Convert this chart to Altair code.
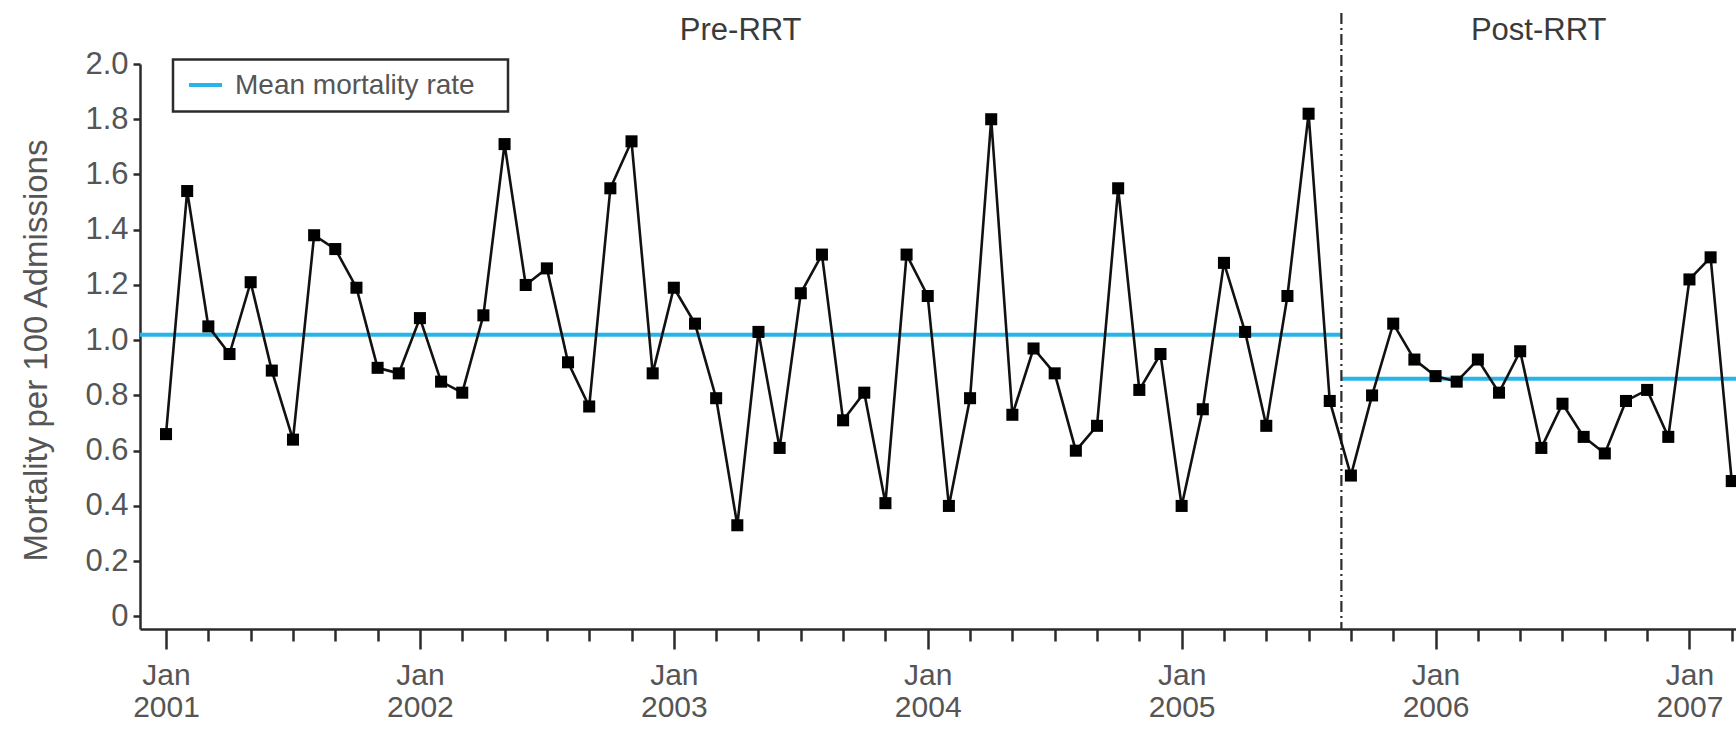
import json
import altair as alt
import pandas as pd

# ---- data ----
month_labels = [f"{y}-{m:02d}" for y in range(2001, 2008) for m in range(1, 13)][:75]
mortality = [
    0.66, 1.54, 1.05, 0.95, 1.21, 0.89, 0.64, 1.38, 1.33, 1.19, 0.90, 0.88,   # 2001
    1.08, 0.85, 0.81, 1.09, 1.71, 1.20, 1.26, 0.92, 0.76, 1.55, 1.72, 0.88,   # 2002
    1.19, 1.06, 0.79, 0.33, 1.03, 0.61, 1.17, 1.31, 0.71, 0.81, 0.41, 1.31,   # 2003
    1.16, 0.40, 0.79, 1.80, 0.73, 0.97, 0.88, 0.60, 0.69, 1.55, 0.82, 0.95,   # 2004
    0.40, 0.75, 1.28, 1.03, 0.69, 1.16, 1.82, 0.78, 0.51, 0.80, 1.06, 0.93,   # 2005
    0.87, 0.85, 0.93, 0.81, 0.96, 0.61, 0.77, 0.65, 0.59, 0.78, 0.82, 0.65,   # 2006
    1.22, 1.30, 0.49,                                                         # 2007
]
period_names = ["Pre-RRT", "Post-RRT"]
period_means = [1.02, 0.86]
year_labels = ["2001", "2002", "2003", "2004", "2005", "2006", "2007"]
y_tick_values = [0, 0.2, 0.4, 0.6, 0.8, 1.0, 1.2, 1.4, 1.6, 1.8, 2.0]
legend_label = "Mean mortality rate"

# month index axis (0 = Jan 2001)
X_MIN, X_MAX = -1.23, 74.2
BOUNDARY = 55.55  # between Aug and Sep 2005
Y_MIN, Y_MAX = -0.0456, 2.0

W, H = 1596, 565
TEXT = "#555555"
DARK = "#2b2b2b"
CYAN = "#27b4e8"
FONT = "Liberation Sans"

df = pd.DataFrame({"idx": list(range(len(mortality))), "month": month_labels, "rate": mortality})

periods = pd.DataFrame({
    "name": period_names,
    "start": [X_MIN, BOUNDARY],
    "end": [BOUNDARY, X_MAX],
    "mean": period_means,
})
periods["mid"] = (periods["start"] + periods["end"]) / 2

xscale = alt.Scale(domain=[X_MIN, X_MAX], nice=False, zero=False)
yscale = alt.Scale(domain=[Y_MIN, Y_MAX], nice=False, zero=False)

x_axis = alt.Axis(
    values=list(range(len(mortality))),
    labelExpr="datum.value % 12 === 0 ? ['Jan', " + json.dumps(year_labels) + "[datum.value / 12]] : ''",
    tickSize={"condition": {"test": "datum.value % 12 === 0", "value": 20}, "value": 12},
    tickWidth=2.5, tickColor=DARK,
    domainColor=DARK, domainWidth=2.5,
    labelFontSize=30, labelColor=TEXT, labelFont=FONT,
    labelLineHeight=32, labelPadding=11,
    labelOverlap=False, labelFlush=False, grid=False, title=None,
)
y_axis = alt.Axis(
    values=y_tick_values,
    labelExpr="datum.value === 0 ? '0' : format(datum.value, '.1f')",
    tickSize=7, tickWidth=2.5, tickColor=DARK,
    domainColor=DARK, domainWidth=2.5,
    labelFontSize=31, labelColor=TEXT, labelFont=FONT, labelPadding=5,
    labelOverlap=False, labelFlush=False, grid=False,
    title="Mortality per 100 Admissions",
    titleFontSize=33, titleFontWeight="normal", titleColor=TEXT, titleFont=FONT,
    titleAngle=270, titleAlign="center", titleBaseline="middle",
    titleX=-104, titleY=286,
)

mean_lines = alt.Chart(periods).mark_rule(color=CYAN, strokeWidth=4).encode(
    x=alt.X("start:Q", scale=xscale, axis=x_axis),
    x2="end:Q",
    y=alt.Y("mean:Q", scale=yscale, axis=y_axis),
)

boundary = alt.Chart(periods.iloc[[1]]).mark_rule(
    color=DARK, strokeWidth=2.2, strokeDash=[11, 4, 2, 4]
).encode(
    x=alt.X("start:Q", scale=xscale),
    y=alt.value(-51), y2=alt.value(H),
)

period_text = alt.Chart(periods).mark_text(
    fontSize=31, font=FONT, color="#3a3a3a", baseline="alphabetic", align="center"
).encode(
    x=alt.X("mid:Q", scale=xscale),
    y=alt.value(-24),
    text="name:N",
)

line = alt.Chart(df).mark_line(color="#111111", strokeWidth=2.6).encode(
    x=alt.X("idx:Q", scale=xscale),
    y=alt.Y("rate:Q", scale=yscale),
)
points = alt.Chart(df).mark_square(color="#000000", size=145, opacity=1).encode(
    x=alt.X("idx:Q", scale=xscale),
    y=alt.Y("rate:Q", scale=yscale),
)

legend_df = pd.DataFrame({"label": [legend_label]})
legend_box = alt.Chart(legend_df).mark_rect(
    fill="white", stroke=DARK, strokeWidth=2.5
).encode(x=alt.value(33), x2=alt.value(368), y=alt.value(-4.5), y2=alt.value(47.5))
legend_line = alt.Chart(legend_df).mark_rule(color=CYAN, strokeWidth=4).encode(
    x=alt.value(49), x2=alt.value(82), y=alt.value(21)
)
legend_text = alt.Chart(legend_df).mark_text(
    fontSize=28, font=FONT, color=TEXT, align="left", baseline="middle"
).encode(x=alt.value(95), y=alt.value(22), text="label:N")

chart = alt.layer(
    mean_lines, boundary, line, points, period_text, legend_box, legend_line, legend_text
).properties(
    width=W, height=H,
    autosize=alt.AutoSizeParams(type="none"),
    padding={"left": 140, "top": 64, "right": 0, "bottom": 102},
    background="white",
).configure_view(strokeWidth=0)

chart.save("out.html", embed_options={"renderer": "svg", "actions": False})
